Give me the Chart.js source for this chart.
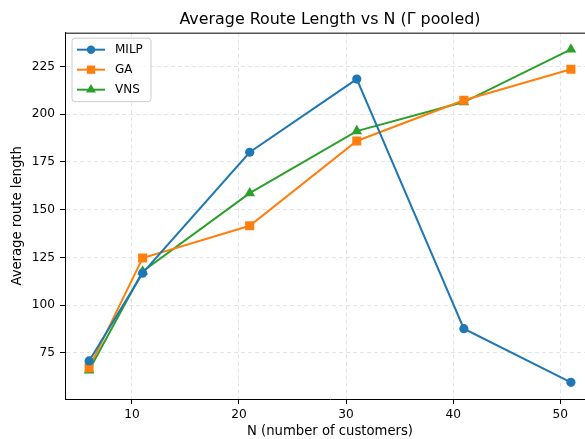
<!DOCTYPE html>
<html>
<head>
<meta charset="utf-8">
<script src="https://cdn.jsdelivr.net/npm/chart.js@4/dist/chart.umd.min.js"></script>
<style>
  html, body { margin: 0; padding: 0; background: #fff; overflow: hidden; }
  canvas { display: block; }
</style>
</head>
<body>
<canvas id="routeChart" width="610" height="439"></canvas>
<script>
// customers per instance
const nValues = [6, 11, 21, 31, 41, 51];
const milpLength = [70.8, 116.8, 180.1, 218.4, 87.7, 59.6];
const gaLength = [67.2, 124.7, 141.6, 186.0, 207.3, 223.6];
const vnsLength = [65.9, 117.7, 158.7, 191.2, 206.4, 234.0];
const xTicks = [10, 20, 30, 40, 50];
const yTicks = [75, 100, 125, 150, 175, 200, 225];

const FONT = "'DejaVu Sans', sans-serif";

// matplotlib style 5% margins
function padRange(values) {
  const lo = Math.min(...values), hi = Math.max(...values);
  const pad = (hi - lo) * 0.05;
  return [lo - pad, hi + pad];
}
const [xMin, xMax] = padRange(nValues);
const [yMin, yMax] = padRange([...milpLength, ...gaLength, ...vnsLength]);

const series = [
  { label: "MILP", values: milpLength, color: "#1f77b4", style: "circle", r: 4.6 },
  { label: "GA", values: gaLength, color: "#ff7f0e", style: "rect", r: 6.4 },
  { label: "VNS", values: vnsLength, color: "#2ca02c", style: "triangle", r: 6.2 }
];

// legend box drawn like matplotlib (line through marker)
const mplLegend = {
  id: "mplLegend",
  afterDraw(chart) {
    const ctx = chart.ctx;
    const area = chart.chartArea;
    const x0 = area.left + 7, y0 = area.top + 5.5;
    const w = 79, h = 63.5;
    ctx.save();
    ctx.beginPath();
    ctx.roundRect(x0, y0, w, h, 3);
    ctx.fillStyle = "rgba(255,255,255,0.8)";
    ctx.fill();
    ctx.strokeStyle = "#cccccc";
    ctx.lineWidth = 1;
    ctx.stroke();
    series.forEach((s, i) => {
      const y = y0 + 11.5 + i * 20;
      ctx.beginPath();
      ctx.moveTo(x0 + 5, y);
      ctx.lineTo(x0 + 33, y);
      ctx.strokeStyle = s.color;
      ctx.lineWidth = 2;
      ctx.stroke();
      ctx.fillStyle = s.color;
      Chart.helpers.drawPoint(ctx, { pointStyle: s.style, radius: s.r * 0.92, borderWidth: 0 }, x0 + 19, y);
      ctx.fillStyle = "#000";
      ctx.font = "12px " + FONT;
      ctx.textBaseline = "middle";
      ctx.fillText(s.label, x0 + 43, y + 0.5);
    });
    ctx.restore();
  }
};

// top spine
const topSpine = {
  id: "topSpine",
  afterDatasetsDraw(chart) {
    const { ctx, chartArea } = chart;
    ctx.save();
    ctx.strokeStyle = "#000";
    ctx.lineWidth = 1;
    ctx.beginPath();
    ctx.moveTo(chartArea.left, chartArea.top + 0.5);
    ctx.lineTo(chartArea.right, chartArea.top + 0.5);
    ctx.stroke();
    ctx.restore();
  }
};

const gridStyle = {
  color: "#e4e4e4",
  lineWidth: 1,
  tickLength: 5,
  tickColor: "#000",
  tickWidth: 1
};

new Chart(document.getElementById("routeChart"), {
  type: "scatter",
  data: {
    datasets: series.map(s => ({
      label: s.label,
      data: nValues.map((n, i) => ({ x: n, y: s.values[i] })),
      showLine: true,
      borderColor: s.color,
      backgroundColor: s.color,
      pointBackgroundColor: s.color,
      pointBorderColor: s.color,
      pointBorderWidth: 0,
      borderWidth: 2,
      pointStyle: s.style,
      pointRadius: s.r,
      pointHoverRadius: s.r,
      tension: 0
    }))
  },
  options: {
    responsive: false,
    animation: false,
    layout: { padding: { left: 0, right: 15, top: 0, bottom: 0 } },
    plugins: {
      legend: { display: false },
      tooltip: { enabled: false },
      title: {
        display: true,
        text: "Average Route Length vs N (Γ pooled)",
        fullSize: false,
        color: "#000",
        font: { family: FONT, size: 15.9, weight: "normal" },
        padding: { top: 10, bottom: 3.6 }
      }
    },
    scales: {
      x: {
        type: "linear",
        min: xMin,
        max: xMax,
        afterBuildTicks: axis => { axis.ticks = xTicks.map(v => ({ value: v })); },
        afterFit: axis => { axis.height = 40; },
        grid: gridStyle,
        border: { display: true, color: "#000", width: 1, dash: [4, 3] },
        ticks: {
          color: "#000",
          padding: 4,
          maxRotation: 0,
          font: { family: FONT, size: 12.2 }
        },
        title: {
          display: true,
          text: "N (number of customers)",
          color: "#000",
          font: { family: FONT, size: 13.2 },
          padding: { top: 0, bottom: 0 }
        }
      },
      y: {
        type: "linear",
        min: yMin,
        max: yMax,
        afterBuildTicks: axis => { axis.ticks = yTicks.map(v => ({ value: v })); },
        afterFit: axis => { axis.width = 65; },
        grid: gridStyle,
        border: { display: true, color: "#000", width: 1, dash: [4, 3] },
        ticks: {
          color: "#000",
          padding: 5,
          font: { family: FONT, size: 12.2 }
        },
        title: {
          display: true,
          text: "Average route length",
          color: "#000",
          font: { family: FONT, size: 13.2 },
          padding: { top: 9.5, bottom: 0 }
        }
      }
    }
  },
  plugins: [mplLegend, topSpine]
});
</script>
</body>
</html>
